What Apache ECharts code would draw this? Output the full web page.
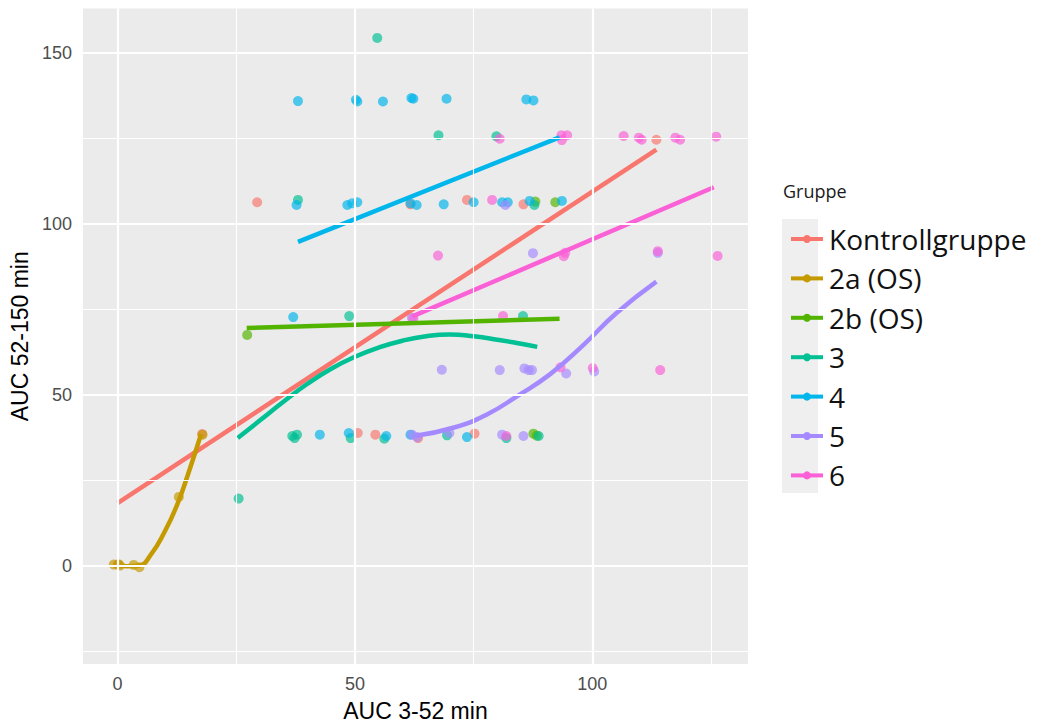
<!DOCTYPE html>
<html>
<head>
<meta charset="utf-8">
<script src="https://cdn.jsdelivr.net/npm/echarts@6/dist/echarts.min.js"></script>
<style>
  html, body { margin: 0; padding: 0; background: #ffffff; }
  #chart { width: 1038px; height: 727px; }
</style>
</head>
<body>
<div id="chart"></div>
<script>
// Groups and their ggplot-style hues
const groups = ['Kontrollgruppe', '2a (OS)', '2b (OS)', '3', '4', '5', '6'];
const groupColors = ['#F8766D', '#C49A00', '#53B400', '#00C094', '#00B6EB', '#A58AFF', '#FB61D7'];

// Observations per group: [AUC 3-52 min, AUC 52-150 min]
const kontrollPoints = [
  [0.0, 0.3], [17.8, 38.5], [29.4, 106.3], [50.6, 38.8], [54.3, 38.3], [61.7, 105.7],
  [63.3, 37.3], [73.6, 107.0], [75.2, 38.6], [85.5, 105.7], [113.5, 124.6]
];
const os2aPoints = [
  [-0.8, 0.3], [0.2, 0.4], [0.5, 0.0], [3.4, 0.2], [4.6, -0.5], [12.9, 20.1], [17.9, 38.3]
];
const os2bPoints = [
  [27.3, 67.5], [88.0, 106.5], [92.2, 106.3], [87.6, 38.6], [88.3, 38.0]
];
const group3Points = [
  [54.7, 154.4], [67.6, 125.9], [79.8, 125.6], [38.0, 107.0], [87.8, 105.5], [48.8, 73.0],
  [85.4, 73.0], [25.5, 19.6], [36.8, 37.9], [37.8, 38.3], [37.3, 37.3], [49.1, 37.3],
  [56.2, 37.1], [69.4, 38.1], [81.9, 37.3], [88.7, 37.9]
];
const group4Points = [
  [38.0, 135.9], [50.2, 136.3], [50.5, 135.8], [55.9, 135.8], [61.9, 136.8], [62.3, 136.6],
  [69.3, 136.6], [86.1, 136.4], [87.6, 136.1],
  [37.7, 105.5], [48.4, 105.5], [49.4, 106.0], [50.5, 106.3], [61.7, 106.0], [63.0, 105.5],
  [68.7, 105.7], [75.0, 106.3], [81.0, 106.3], [82.2, 106.3], [86.8, 106.7], [93.6, 106.7],
  [37.0, 72.7],
  [42.6, 38.3], [48.7, 38.8], [56.6, 37.9], [61.7, 38.3], [73.6, 37.6]
];
const group5Points = [
  [62.0, 72.5], [81.7, 105.5], [87.5, 91.4], [113.8, 91.5], [68.3, 57.3], [80.5, 57.2],
  [85.7, 57.7], [86.6, 57.2], [87.3, 57.2], [94.5, 56.2], [100.4, 56.8],
  [63.1, 37.6], [62.0, 38.3], [69.9, 38.8], [81.0, 38.3], [85.5, 37.9]
];
const group6Points = [
  [80.5, 124.9], [93.5, 125.9], [94.7, 125.9], [93.6, 124.5], [106.6, 125.7], [109.8, 125.2],
  [110.4, 124.6], [117.5, 125.2], [118.5, 124.6], [126.1, 125.5],
  [78.9, 107.0],
  [67.5, 90.7], [94.0, 90.5], [94.3, 91.5], [113.8, 92.0], [126.4, 90.6],
  [62.3, 72.3], [81.2, 73.0],
  [93.3, 58.0], [100.1, 57.8], [114.3, 57.2],
  [81.9, 37.9]
];

// Fitted trend per group (linear fits and loess curves), sampled along x
const kontrollFit = [[0.0, 18.3], [113.5, 121.7]];
const os2aFit = [
  [-0.8, 0.2], [2.0, -0.2], [4.5, 0.0], [7.2, 3.6], [9.8, 9.6], [12.5, 17.6],
  [15.0, 27.4], [17.6, 38.5]
];
const os2bFit = [[27.2, 69.5], [93.1, 72.2]];
const group3Fit = [
  [25.3, 37.3], [30.0, 42.5], [35.0, 48.0], [40.0, 53.2], [45.0, 57.6], [50.0, 61.1],
  [55.0, 63.8], [60.0, 65.8], [65.0, 67.1], [70.0, 67.6], [75.0, 67.1], [80.0, 66.1],
  [85.0, 64.9], [88.4, 64.0]
];
const group4Fit = [[38.0, 94.7], [93.1, 125.3]];
const group5Fit = [
  [62.8, 38.0], [70.9, 40.4], [77.9, 44.3], [84.2, 49.6], [91.2, 56.1], [98.1, 64.5],
  [105.1, 73.9], [113.5, 83.1]
];
const group6Fit = [[62.1, 72.9], [125.6, 110.7]];

const pointSets = [kontrollPoints, os2aPoints, os2bPoints, group3Points, group4Points, group5Points, group6Points];
const fitSets = [kontrollFit, os2aFit, os2bFit, group3Fit, group4Fit, group5Fit, group6Fit];
const curvedFit = [false, true, false, true, false, true, false];

// Axis ticks and grid lines
const xTicks = [0, 50, 100];
const yTicks = [0, 50, 100, 150];
const xMinorLines = [25, 75, 125];
const yMinorLines = [-25, 25, 75, 125];
const xRange = [-7.3, 132.8];
const yRange = [-28.8, 163.0];

const chart = echarts.init(document.getElementById('chart'), null, { renderer: 'svg' });

const gridLineSeries = {
  type: 'line',
  data: [],
  silent: true,
  z: 1,
  markLine: {
    silent: true,
    symbol: 'none',
    animation: false,
    label: { show: false },
    emphasis: { disabled: true },
    data: [
      ...xMinorLines.map(v => ({ xAxis: v, lineStyle: { color: '#ffffff', width: 1.1, type: 'solid' } })),
      ...yMinorLines.map(v => ({ yAxis: v, lineStyle: { color: '#ffffff', width: 1.1, type: 'solid' } })),
      ...xTicks.map(v => ({ xAxis: v, lineStyle: { color: '#ffffff', width: 2.2, type: 'solid' } })),
      ...yTicks.map(v => ({ yAxis: v, lineStyle: { color: '#ffffff', width: 2.2, type: 'solid' } }))
    ]
  }
};

const fitSeries = groups.map((g, i) => ({
  name: g,
  type: 'line',
  data: fitSets[i],
  smooth: curvedFit[i] ? 0.5 : false,
  symbol: 'circle',
  symbolSize: 8,
  showSymbol: false,
  z: 4,
  lineStyle: { color: groupColors[i], width: 4.5, cap: 'butt' },
  itemStyle: { color: groupColors[i] },
  emphasis: { disabled: true }
}));

const pointSeries = groups.map((g, i) => ({
  name: g,
  type: 'scatter',
  data: pointSets[i],
  symbol: 'circle',
  symbolSize: 10,
  z: 3,
  itemStyle: { color: groupColors[i], opacity: 0.68 },
  emphasis: { disabled: true }
}));

const axisTextFont = 'Liberation Sans, Arial, sans-serif';

chart.setOption({
  animation: false,
  backgroundColor: '#ffffff',
  grid: {
    left: 81, right: 290, top: 8.5, bottom: 59,
    show: true, backgroundColor: '#EBEBEB', borderWidth: 0
  },
  xAxis: {
    type: 'value',
    min: xRange[0], max: xRange[1],
    name: 'AUC 3-52 min',
    nameLocation: 'middle',
    nameGap: 35,
    nameTextStyle: { fontSize: 23, color: '#000000', fontFamily: axisTextFont },
    axisLine: { show: false },
    splitLine: { show: false },
    axisTick: { show: true, customValues: xTicks, length: 5, lineStyle: { color: '#333333', width: 2 } },
    axisLabel: { customValues: xTicks, fontSize: 18, color: '#4D4D4D', margin: 11, fontFamily: axisTextFont }
  },
  yAxis: {
    type: 'value',
    min: yRange[0], max: yRange[1],
    name: 'AUC 52-150 min',
    nameLocation: 'middle',
    nameGap: 46,
    nameTextStyle: { fontSize: 23, color: '#000000', fontFamily: axisTextFont },
    axisLine: { show: false },
    splitLine: { show: false },
    axisTick: { show: true, customValues: yTicks, length: 5, lineStyle: { color: '#333333', width: 2 } },
    axisLabel: { customValues: yTicks, fontSize: 18, color: '#4D4D4D', margin: 11, fontFamily: axisTextFont }
  },
  legend: {
    data: groups,
    orient: 'vertical',
    left: 784,
    top: 220,
    itemWidth: 32,
    itemHeight: 10,
    itemGap: 11.4,
    selectedMode: false,
    lineStyle: { width: 4 },
    textStyle: { fontSize: 28, lineHeight: 28, color: '#111111', fontFamily: 'Open Sans, sans-serif', padding: [0, 0, 0, 1] }
  },
  graphic: [
    { type: 'rect', left: 782, top: 219, shape: { width: 36, height: 274 }, style: { fill: '#EFEFEF' }, z: -1, silent: true },
    { type: 'text', left: 783, top: 182, style: { text: 'Gruppe', fontSize: 18, fill: '#1A1A1A', fontFamily: 'Open Sans, sans-serif' }, silent: true }
  ],
  series: [gridLineSeries, ...fitSeries, ...pointSeries]
});
</script>
</body>
</html>
